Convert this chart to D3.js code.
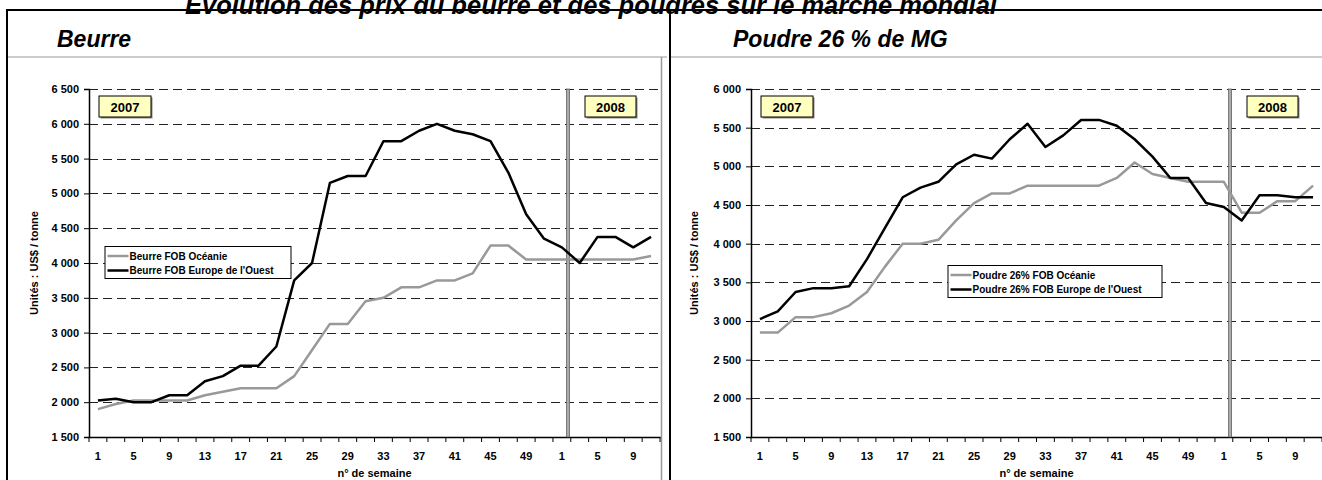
<!DOCTYPE html>
<html>
<head>
<meta charset="utf-8">
<script src="https://cdn.jsdelivr.net/npm/d3@7"></script>
<style>
  body { margin: 0; background: #fff; }
  text { font-family: Arial, "Liberation Sans", sans-serif; }
</style>
</head>
<body>
<div class="chart"></div>
<script>

// categories : n° de semaine (every 2 weeks)
var weeks2007 = [1, 3, 5, 7, 9, 11, 13, 15, 17, 19, 21, 23, 25, 27, 29, 31, 33, 35, 37, 39, 41, 43, 45, 47, 49, 51];
var weeks2008 = [1, 3, 5, 7, 9, 11];

// Beurre (US$ / tonne)
var beurreOceanie = [1900, 1975, 2025, 2025, 2025, 2025, 2100, 2150, 2200, 2200, 2200, 2375, 2750, 3125, 3125, 3450,
  3500, 3650, 3650, 3750, 3750, 3850, 4250, 4250, 4050, 4050, 4050, 4050, 4050, 4050, 4050, 4100];
var beurreEurope = [2025, 2050, 2000, 2000, 2100, 2100, 2300, 2375, 2525, 2525, 2800, 3750, 4000, 5150, 5250, 5250,
  5750, 5750, 5900, 6000, 5900, 5850, 5750, 5300, 4700, 4350, 4225, 4000, 4375, 4375, 4225, 4375];

// Poudre 26 % de MG (US$ / tonne)
var poudreOceanie = [2850, 2850, 3050, 3050, 3100, 3200, 3375, 3700, 4000, 4000, 4050, 4300, 4525, 4650, 4650, 4750,
  4750, 4750, 4750, 4750, 4850, 5050, 4900, 4850, 4800, 4800, 4800, 4400, 4400, 4550, 4550, 4750];
var poudreEurope = [3025, 3125, 3375, 3425, 3425, 3450, 3800, 4200, 4600, 4725, 4800, 5025, 5150, 5100, 5350, 5550,
  5250, 5400, 5600, 5600, 5525, 5350, 5125, 4850, 4850, 4525, 4475, 4300, 4625, 4625, 4600, 4600];

// y tick labels
var beurreTicks = [1500, 2000, 2500, 3000, 3500, 4000, 4500, 5000, 5500, 6000, 6500];
var poudreTicks = [1500, 2000, 2500, 3000, 3500, 4000, 4500, 5000, 5500, 6000];

var mainTitle = "Evolution des prix du beurre et des poudres sur le marché mondial";

var svgWidth = 1322;
var svgHeight = 480;

var svg = d3
  .select(".chart")
  .append("svg")
  .attr("width", svgWidth)
  .attr("height", svgHeight)
  .style("display", "block");

svg.append("rect")
  .attr("width", svgWidth)
  .attr("height", svgHeight)
  .attr("fill", "#fff");

// build category keys (year + week)
var categories = weeks2007.map(w => "2007-" + w).concat(weeks2008.map(w => "2008-" + w));
var weekOf = {};
weeks2007.forEach(w => weekOf["2007-" + w] = w);
weeks2008.forEach(w => weekOf["2008-" + w] = w);

var fr = d3.formatLocale({ decimal: ",", thousands: " ", grouping: [3], currency: ["", ""] });
var fmt = fr.format(",");

// main title (cut at the top of the page)
svg.append("text")
  .attr("x", 591)
  .attr("y", 14)
  .attr("text-anchor", "middle")
  .attr("font-size", "25.5px")
  .attr("font-weight", "bold")
  .attr("font-style", "italic")
  .text(mainTitle);

// frame
svg.append("line").attr("x1", 7).attr("x2", 1322).attr("y1", 10).attr("y2", 10)
  .attr("stroke", "#000").attr("stroke-width", 2);
svg.append("line").attr("x1", 7).attr("x2", 7).attr("y1", 9).attr("y2", 480)
  .attr("stroke", "#000").attr("stroke-width", 2);
svg.append("line").attr("x1", 670).attr("x2", 670).attr("y1", 9).attr("y2", 480)
  .attr("stroke", "#000").attr("stroke-width", 2);

// chart area borders (grey)
svg.append("line").attr("x1", 8).attr("x2", 667).attr("y1", 57).attr("y2", 57)
  .attr("stroke", "#999").attr("stroke-width", 1);
svg.append("line").attr("x1", 671).attr("x2", 1322).attr("y1", 57).attr("y2", 57)
  .attr("stroke", "#999").attr("stroke-width", 1);
svg.append("line").attr("x1", 661.5).attr("x2", 661.5).attr("y1", 57).attr("y2", 480)
  .attr("stroke", "#999").attr("stroke-width", 1.5);

function drawChart(cfg) {
  var width = cfg.width;
  var height = cfg.height;

  var g = svg.append("g")
    .attr("transform", `translate(${cfg.left}, ${cfg.top})`);

  // panel title
  svg.append("text")
    .attr("x", cfg.titleX)
    .attr("y", 47)
    .attr("font-size", "23px")
    .attr("font-weight", "bold")
    .attr("font-style", "italic")
    .text(cfg.title);

  var x = d3.scaleBand()
    .domain(categories)
    .range([0, width])
    .padding(0);

  var y = d3.scaleLinear()
    .domain([cfg.ticks[0], cfg.ticks[cfg.ticks.length - 1]])
    .range([height, 0]);

  // dashed grid lines
  g.selectAll(".grid")
    .data(cfg.ticks.slice(1))
    .enter()
    .append("line")
    .attr("x1", 0)
    .attr("x2", width)
    .attr("y1", d => Math.round(y(d)) + 0.5)
    .attr("y2", d => Math.round(y(d)) + 0.5)
    .attr("stroke", "#222")
    .attr("stroke-width", 1.1)
    .attr("stroke-dasharray", "9,5");

  // y axis
  var leftAxis = d3.axisLeft(y)
    .tickValues(cfg.ticks)
    .tickSize(5)
    .tickPadding(5)
    .tickFormat(fmt);

  var yAxis = g.append("g").call(leftAxis);
  yAxis.select(".domain").attr("stroke-width", 1.5);
  yAxis.selectAll("text")
    .attr("font-size", "11px")
    .attr("font-weight", "bold")
    .attr("font-family", "Arial, 'Liberation Sans', sans-serif");

  // x axis : labels every other category
  var bottomAxis = d3.axisBottom(x)
    .tickValues(categories.filter((c, i) => i % 2 === 0))
    .tickSize(0)
    .tickPadding(15)
    .tickFormat(c => weekOf[c]);

  var xAxis = g.append("g")
    .attr("transform", `translate(0, ${height})`)
    .call(bottomAxis);
  xAxis.select(".domain").attr("stroke-width", 1.5);
  xAxis.selectAll("text")
    .attr("font-size", "11px")
    .attr("font-weight", "bold")
    .attr("font-family", "Arial, 'Liberation Sans', sans-serif");

  // tick marks between categories
  g.selectAll(".xtick")
    .data(categories.concat(["end"]))
    .enter()
    .append("line")
    .attr("x1", (d, i) => i * x.step())
    .attr("x2", (d, i) => i * x.step())
    .attr("y1", height)
    .attr("y2", height + 5)
    .attr("stroke", "#000")
    .attr("stroke-width", 1);

  // year separator (double line)
  var sepX = x(categories[27]) - x.step() * 0.15;
  g.append("rect")
    .attr("x", sepX - 1.5)
    .attr("y", 0)
    .attr("width", 3)
    .attr("height", height)
    .attr("fill", "#aaa")
    .attr("stroke", "#555")
    .attr("stroke-width", 0.7);

  // series lines
  var line = d3.line()
    .x((d, i) => x(categories[i]) + x.bandwidth() / 2)
    .y(d => y(d));

  g.append("path")
    .datum(cfg.oceanie)
    .attr("fill", "none")
    .attr("stroke", "#999")
    .attr("stroke-width", 2.5)
    .attr("stroke-linejoin", "round")
    .attr("d", line);

  g.append("path")
    .datum(cfg.europe)
    .attr("fill", "none")
    .attr("stroke", "#000")
    .attr("stroke-width", 2.5)
    .attr("stroke-linejoin", "round")
    .attr("d", line);

  // year boxes
  [{ label: "2007", x: 10, w: 52 }, { label: "2008", x: 496, w: 51 }].forEach(function(b) {
    g.append("rect")
      .attr("x", b.x + 1.5).attr("y", 8.5)
      .attr("width", b.w).attr("height", 21)
      .attr("fill", "#888");
    g.append("rect")
      .attr("x", b.x).attr("y", 7)
      .attr("width", b.w).attr("height", 21)
      .attr("fill", "#ffffc0")
      .attr("stroke", "#000")
      .attr("stroke-width", 1);
    g.append("text")
      .attr("x", b.x + b.w / 2)
      .attr("y", 22.5)
      .attr("text-anchor", "middle")
      .attr("font-size", "13px")
      .attr("font-weight", "bold")
      .text(b.label);
  });

  // legend
  var lg = svg.append("g")
    .attr("transform", `translate(${cfg.legendX}, ${cfg.legendY})`);
  lg.append("rect")
    .attr("x", 0.5).attr("y", 0.5)
    .attr("width", cfg.legendW).attr("height", 32)
    .attr("fill", "#fff")
    .attr("stroke", "#000")
    .attr("stroke-width", 1);
  var items = [
    { name: cfg.names[0], color: "#999", dy: 10 },
    { name: cfg.names[1], color: "#000", dy: 24.5 }
  ];
  items.forEach(function(it) {
    lg.append("line")
      .attr("x1", 3).attr("x2", 24)
      .attr("y1", it.dy).attr("y2", it.dy)
      .attr("stroke", it.color)
      .attr("stroke-width", 2.5);
    lg.append("text")
      .attr("x", 25)
      .attr("y", it.dy + 3.5)
      .attr("font-size", "10px")
      .attr("font-weight", "bold")
      .text(it.name);
  });

  // axis titles
  g.append("text")
    .attr("transform", "rotate(-90)")
    .attr("x", 0 - height / 2)
    .attr("y", cfg.yTitleX - cfg.left)
    .attr("text-anchor", "middle")
    .attr("font-size", "11px")
    .attr("font-weight", "bold")
    .text("Unités : US$ / tonne");

  g.append("text")
    .attr("x", width / 2)
    .attr("y", height + 40)
    .attr("text-anchor", "middle")
    .attr("font-size", "11px")
    .attr("font-weight", "bold")
    .text("n° de semaine");
}

drawChart({
  left: 89, top: 89, width: 571, height: 348,
  title: "Beurre", titleX: 57,
  ticks: beurreTicks,
  oceanie: beurreOceanie,
  europe: beurreEurope,
  names: ["Beurre FOB Océanie", "Beurre FOB Europe de l'Ouest"],
  legendX: 104.5, legendY: 246, legendW: 186,
  yTitleX: 38
});

drawChart({
  left: 751, top: 89, width: 571, height: 348,
  title: "Poudre 26 % de MG", titleX: 733,
  ticks: poudreTicks,
  oceanie: poudreOceanie,
  europe: poudreEurope,
  names: ["Poudre 26% FOB Océanie", "Poudre 26% FOB Europe de l'Ouest"],
  legendX: 947.5, legendY: 265, legendW: 214,
  yTitleX: 698
});

</script>
</body>
</html>
